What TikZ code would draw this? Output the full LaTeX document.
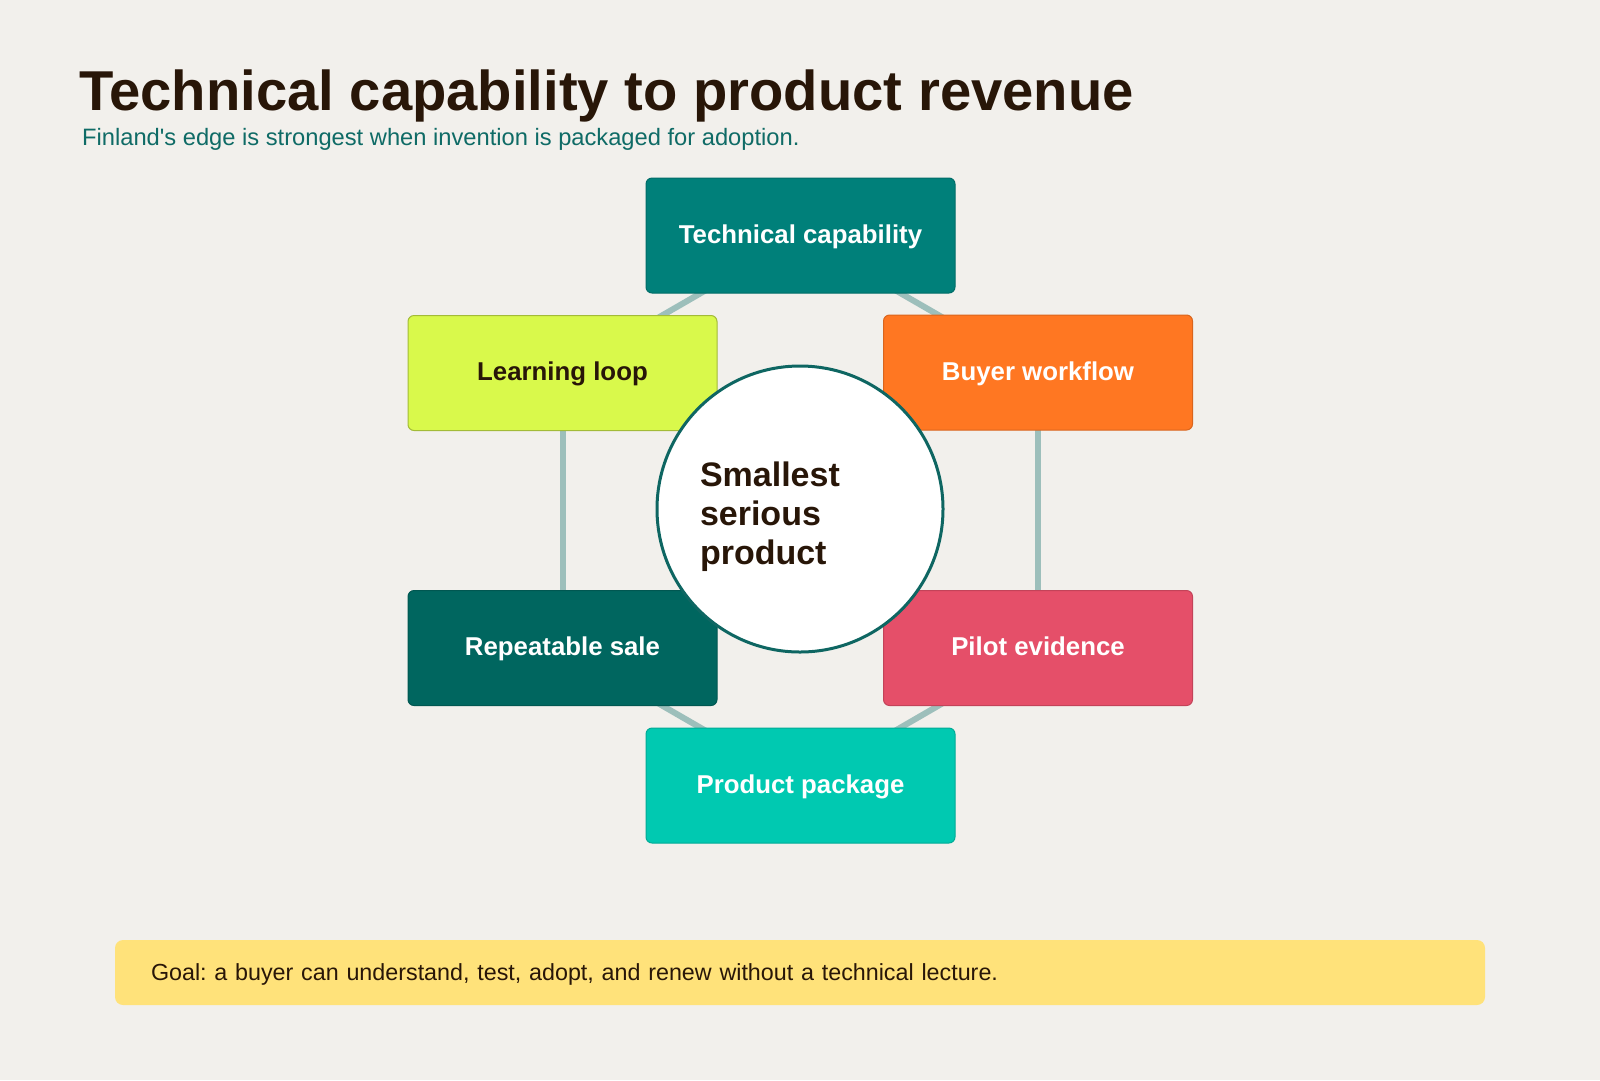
\documentclass[tikz,border=0pt]{standalone}
\usepackage{fontspec}
\setmainfont{Liberation Sans}
\frenchspacing
\definecolor{fkpaper}{RGB}{242,240,236}
\definecolor{fkink}{RGB}{40,22,8}
\definecolor{fksub}{RGB}{15,107,102}
\definecolor{fkteal}{RGB}{0,128,122}
\definecolor{fklime}{RGB}{217,249,75}
\definecolor{fkorange}{RGB}{255,119,34}
\definecolor{fkdeep}{RGB}{0,102,95}
\definecolor{fkrose}{RGB}{229,79,105}
\definecolor{fkaqua}{RGB}{0,201,177}
\definecolor{fkring}{RGB}{14,102,98}
\definecolor{fklink}{RGB}{157,191,187}
\definecolor{fkgoal}{RGB}{255,226,122}
\newcommand{\straightquote}{\XeTeXglyph\XeTeXcharglyph"0027\relax}
\usetikzlibrary{positioning}
\pgfdeclarelayer{back}
\pgfdeclarelayer{links}
\pgfsetlayers{back,links,main}
\tikzset{
    stage/.style={
        draw=#1!85!black, line width=1pt, fill=#1, rounded corners=6pt,
        minimum width=309pt, minimum height=115pt, text=white,
        text height=21pt, text depth=5.6pt,
        font=\fontsize{25.8}{30}\selectfont\bfseries
    },
    stage/.default=fkteal,
    hub/.style={
        circle, draw=fkring, line width=3pt, fill=white,
        minimum size=286pt, text width=200pt, align=left, text=fkink,
        font=\fontsize{34}{39}\selectfont\bfseries
    },
    link/.style={
        draw=fklink, line width=6pt
    },
    goal/.style={
        fill=fkgoal, rounded corners=8pt, minimum height=65pt,
        inner xsep=36pt, text width=1298pt, align=left, text=fkink,
        text depth=0pt, font=\fontsize{23.3}{28}\selectfont
    }
}

\begin{document}
\begin{tikzpicture}[x=1pt, y=-1pt]
\begin{pgfonlayer}{back}
  \fill[fkpaper] (0,0) rectangle (1600,1080);
\end{pgfonlayer}
\useasboundingbox (0,0) rectangle (1600,1080);
% heading
\node[anchor=base west, inner sep=0, text=fkink, font=\fontsize{56.2}{64}\selectfont\bfseries]
  (title) at (79,110) {Technical capability to product revenue};
\node[anchor=base west, inner sep=0, text=fksub, font=\fontsize{23.7}{28}\selectfont]
  (subtitle) at (82,145) {Finland\straightquote s edge is strongest when invention is packaged for adoption.};
% cycle
\node[stage=fkteal] (tech) at (800.5,235.5) {Technical capability};
\node[stage=fklime, draw=fklime!75!black, text=fkink] (learn) at (562.5,373) {Learning loop};
\node[stage=fkorange] (buyer) at (1038,372.5) {Buyer workflow};
\node[stage=fkdeep] (sale) at (562.5,648) {Repeatable sale};
\node[stage=fkrose] (pilot) at (1038,648) {Pilot evidence};
\node[stage=fkaqua] (package) at (800.5,785.5) {Product package};
\node[hub] (hub) at (800,509) {\rule{0pt}{41pt}Smallest\\serious\\product};
\begin{pgfonlayer}{links}
  \draw[link] (tech.center) -- (learn.center);
  \draw[link] (tech.center) -- (buyer.center);
  \draw[link] (learn.center) -- (sale.center);
  \draw[link] (buyer.center) -- (pilot.center);
  \draw[link] (sale.center) -- (package.center);
  \draw[link] (pilot.center) -- (package.center);
\end{pgfonlayer}
% footer
\node[goal, minimum width=1370pt] (goalbox) at (800,972.5)
  {Goal: a buyer can understand, test, adopt, and renew without a technical lecture.};
\end{tikzpicture}
\end{document}
